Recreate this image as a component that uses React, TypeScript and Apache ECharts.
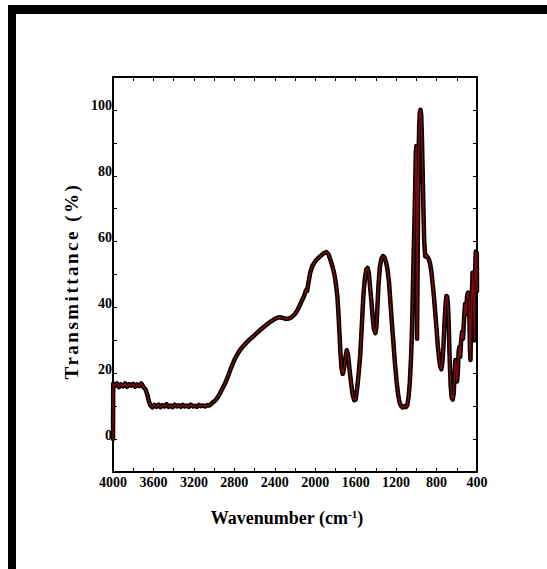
import React, { useEffect, useRef } from "react";
import * as echarts from "echarts";

const FONT = "'Liberation Serif', 'Times New Roman', serif";

// wavenumber (cm-1)
const wavenumbers = [
  4000, 3998, 3980, 3960, 3940, 3920, 3900, 3880, 3860, 3840, 3820, 3800, 3780, 3760, 3740, 3720, 3700, 3680,
  3660, 3645, 3630, 3610, 3590, 3570, 3550, 3530, 3510, 3490, 3470, 3450, 3430, 3410, 3390, 3370, 3350, 3330,
  3310, 3290, 3270, 3250, 3230, 3210, 3190, 3170, 3150, 3130, 3110, 3090, 3070, 3050, 3030, 3010, 2980, 2950,
  2920, 2890, 2860, 2830, 2800, 2770, 2740, 2710, 2680, 2650, 2620, 2590, 2560, 2530, 2500, 2470, 2440, 2410,
  2380, 2350, 2320, 2290, 2260, 2230, 2200, 2170, 2140, 2110, 2090, 2080, 2070, 2050, 2030, 2000, 1970, 1940,
  1910, 1890, 1870, 1850, 1830, 1810, 1795, 1780, 1770, 1760, 1750, 1740, 1728, 1715, 1700, 1688, 1675, 1660,
  1645, 1630, 1615, 1600, 1585, 1570, 1555, 1540, 1525, 1510, 1495, 1482, 1470, 1458, 1445, 1432, 1420, 1405,
  1395, 1385, 1375, 1360, 1345, 1330, 1315, 1300, 1285, 1270, 1255, 1240, 1225, 1210, 1195, 1180, 1165, 1150,
  1135, 1120, 1105, 1090, 1078, 1065, 1052, 1042, 1035, 1028, 1020, 1012, 1005, 1000, 996, 993, 988, 980,
  972, 965, 958, 952, 945, 938, 930, 922, 912, 900, 888, 875, 862, 850, 838, 825, 812, 800,
  788, 775, 763, 752, 742, 732, 722, 712, 702, 694, 686, 678, 670, 660, 650, 640, 630, 622,
  614, 606, 598, 590, 582, 574, 566, 558, 548, 538, 528, 518, 508, 498, 488, 478, 470, 464,
  458, 450, 444, 438, 430, 424, 418, 412, 406, 402, 400,
];

// transmittance (%)
const transmittance = [
  0, 16.8, 16.2, 16.9, 15.8, 16.6, 16.0, 16.9, 15.9, 16.7, 16.2, 16.8, 15.9, 16.6, 16.1, 16.9, 15.8, 15.2,
  13.5, 11.5, 10.2, 9.6, 10.4, 9.8, 10.5, 9.7, 10.3, 9.9, 10.6, 9.8, 10.2, 9.7, 10.5, 9.9, 10.3, 9.8,
  10.4, 9.9, 10.2, 9.8, 10.5, 9.9, 10.1, 9.8, 10.4, 10.0, 10.2, 9.9, 10.3, 10.2, 10.6, 11.2, 12.0, 13.4,
  15.2, 17.0, 19.3, 21.8, 24.0, 25.8, 27.2, 28.3, 29.3, 30.2, 31.0, 31.9, 32.7, 33.5, 34.3, 35.0, 35.7, 36.3,
  36.8, 37.0, 36.8, 36.5, 36.6, 37.1, 38.0, 39.5, 41.5, 43.5, 45.3, 45.0, 47.0, 50.5, 52.5, 54.0, 55.0, 55.8,
  56.6, 56.8, 56.2, 54.5, 52.5, 50.0, 47.0, 43.0, 38.0, 32.0, 26.0, 21.5, 19.8, 21.5, 25.0, 27.0, 25.5, 21.0,
  17.0, 13.5, 11.8, 12.0, 15.5, 20.0, 25.5, 34.0, 43.0, 48.5, 51.5, 52.0, 50.5, 46.5, 42.0, 37.0, 33.5, 32.2,
  34.0, 40.0, 46.5, 52.5, 54.8, 55.6, 55.2, 53.8, 51.5, 47.5, 41.0, 34.5, 28.5, 22.5, 17.5, 13.5, 11.0, 10.0,
  9.6, 10.0, 9.7, 10.2, 12.5, 17.0, 25.0, 34.0, 44.0, 54.0, 64.0, 76.0, 87.0, 89.0, 80.0, 30.5, 50.0, 80.0,
  95.0, 99.5, 100.0, 98.5, 92.0, 82.0, 70.0, 60.0, 55.5, 55.8, 55.2, 54.5, 53.0, 50.5, 47.0, 43.0, 38.0, 33.5,
  28.5, 24.5, 22.0, 21.2, 23.5, 28.0, 35.0, 40.5, 43.5, 43.2, 40.0, 33.0, 24.0, 16.0, 12.5, 12.0, 14.0, 19.5,
  24.0, 22.0, 17.5, 20.0, 26.5, 28.0, 25.0, 29.5, 32.5, 30.5, 36.5, 41.0, 38.0, 43.5, 44.5, 42.5, 27.5, 24.0,
  38.5, 45.0, 50.5, 47.0, 37.0, 30.0, 52.0, 57.0, 50.0, 56.5, 45.0,
];

const xLabelStep = 400;
const yLabelStep = 20;

const mkLine = () => ({ show: true, onZero: false, lineStyle: { color: "#000", width: 2 } });
const mkTick = () => ({ show: true, inside: true, length: 4, lineStyle: { color: "#000", width: 1 } });

export default function App() {
  const ref = useRef<HTMLDivElement>(null);

  useEffect(() => {
    if (!ref.current) return;
    const chart = echarts.init(ref.current, undefined, { renderer: "svg" });
    const data = wavenumbers.map((w, i) => [w, transmittance[i]]);

    const labelBase = { color: "#000", fontFamily: FONT, fontWeight: "bold" as const, fontSize: 14 };

    chart.setOption({
      animation: false,
      backgroundColor: "#fff",
      grid: { left: 113, right: 70, top: 77, bottom: 97, containLabel: false },
      xAxis: [
        {
          type: "value",
          min: 400,
          max: 4000,
          interval: 200,
          inverse: true,
          position: "bottom",
          axisLine: mkLine(),
          axisTick: mkTick(),
          splitLine: { show: false },
          axisLabel: {
            ...labelBase,
            margin: 3,
            formatter: (v: number) => (v % xLabelStep === 0 ? String(v) : ""),
          },
        },
        {
          type: "value",
          min: 400,
          max: 4000,
          interval: 200,
          inverse: true,
          position: "top",
          axisLine: mkLine(),
          axisTick: mkTick(),
          splitLine: { show: false },
          axisLabel: { show: false },
        },
      ],
      yAxis: [
        {
          type: "value",
          min: -10,
          max: 110,
          interval: 10,
          position: "left",
          axisLine: mkLine(),
          axisTick: mkTick(),
          splitLine: { show: false },
          axisLabel: {
            ...labelBase,
            margin: 1,
            verticalAlign: "bottom",
            lineHeight: 8,
            formatter: (v: number) => (v >= 0 && v <= 100 && v % yLabelStep === 0 ? String(v) : ""),
          },
        },
        {
          type: "value",
          min: -10,
          max: 110,
          interval: 10,
          position: "right",
          axisLine: mkLine(),
          axisTick: mkTick(),
          splitLine: { show: false },
          axisLabel: { show: false },
        },
      ],
      series: [
        {
          type: "line",
          data,
          xAxisIndex: 0,
          yAxisIndex: 0,
          showSymbol: false,
          symbol: "none",
          lineStyle: { color: "#000", width: 4.5, join: "round", cap: "round" },
          z: 2,
        },
        {
          type: "line",
          data,
          xAxisIndex: 0,
          yAxisIndex: 0,
          showSymbol: false,
          symbol: "none",
          lineStyle: { color: "#7d0a0a", width: 1.5, join: "round", cap: "round" },
          z: 3,
        },
      ],
      graphic: [
        { type: "rect", shape: { x: 8, y: 5, width: 539, height: 9 }, style: { fill: "#000" } },
        { type: "rect", shape: { x: 8, y: 5, width: 8, height: 564 }, style: { fill: "#000" } },
        {
          type: "text",
          x: 287,
          y: 518,
          style: {
            text: "{a|Wavenumber (cm}{b|-1}{a|)}",
            align: "center",
            verticalAlign: "middle",
            rich: {
              a: { fontFamily: FONT, fontWeight: "bold", fontSize: 18, fill: "#000", lineHeight: 20 },
              b: { fontFamily: FONT, fontWeight: "bold", fontSize: 11, fill: "#000", verticalAlign: "top", lineHeight: 12 },
            },
          },
        },
        {
          type: "text",
          x: 71,
          y: 281,
          rotation: Math.PI / 2,
          style: {
            text: "Transmittance (%)",
            align: "center",
            verticalAlign: "middle",
            fontFamily: FONT,
            fontWeight: "bold",
            fontSize: 19,
            fill: "#000",
          },
        },
      ],
    });

    // The reference spreads the letters of the y title apart
    ref.current.querySelectorAll("text").forEach((t) => {
      if (t.textContent === "Transmittance (%)") t.setAttribute("letter-spacing", "2.5");
    });

    return () => chart.dispose();
  }, []);

  return <div ref={ref} style={{ position: "fixed", left: 0, top: 0, width: 547, height: 569 }} />;
}
